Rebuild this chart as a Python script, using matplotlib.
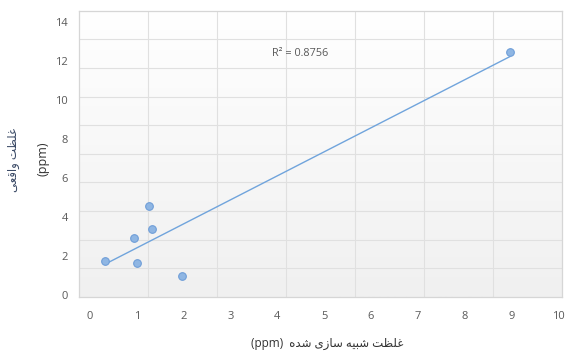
import numpy as np
import matplotlib
matplotlib.use("Agg")
import matplotlib.pyplot as plt
from matplotlib.colors import LinearSegmentedColormap

# simulated vs. real concentration (ppm)
sim_conc = [0.32, 0.95, 1.01, 1.26, 1.32, 1.96, 8.97]
real_conc = [1.76, 2.94, 1.66, 4.55, 3.40, 0.96, 12.48]
x_ticks = list(range(0, 11))
y_ticks = list(range(0, 15, 2))
r2_label = "R² = 0.8756"
x_title_fa = "غلظت شبیه سازی شده"
y_title_fa = "غلظت واقعی"
unit = "(ppm)"

# (isolated, final, initial, medial) presentation forms; right-joining letters have 2
FORMS = {
    "ا": ("\uFE8D", "\uFE8E"),
    "ب": ("\uFE8F", "\uFE90", "\uFE91", "\uFE92"),
    "ت": ("\uFE95", "\uFE96", "\uFE97", "\uFE98"),
    "د": ("\uFEA9", "\uFEAA"),
    "ز": ("\uFEAF", "\uFEB0"),
    "س": ("\uFEB1", "\uFEB2", "\uFEB3", "\uFEB4"),
    "ش": ("\uFEB5", "\uFEB6", "\uFEB7", "\uFEB8"),
    "ظ": ("\uFEC5", "\uFEC6", "\uFEC7", "\uFEC8"),
    "ع": ("\uFEC9", "\uFECA", "\uFECB", "\uFECC"),
    "غ": ("\uFECD", "\uFECE", "\uFECF", "\uFED0"),
    "ق": ("\uFED5", "\uFED6", "\uFED7", "\uFED8"),
    "ل": ("\uFEDD", "\uFEDE", "\uFEDF", "\uFEE0"),
    "ه": ("\uFEE9", "\uFEEA", "\uFEEB", "\uFEEC"),
    "و": ("\uFEED", "\uFEEE"),
    "ی": ("\uFEEF", "\uFEF0", "\uFEF3", "\uFEF4"),
}


def shape_rtl(text):
    # tiny arabic shaper + reversal, since matplotlib has no bidi support
    out = []
    for i, ch in enumerate(text):
        f = FORMS.get(ch)
        if f is None:
            out.append(ch)
            continue
        prev = text[i - 1] if i > 0 else " "
        nxt = text[i + 1] if i + 1 < len(text) else " "
        join_prev = prev in FORMS and len(FORMS[prev]) == 4
        join_next = len(f) == 4 and nxt in FORMS
        if join_prev and join_next:
            out.append(f[3])
        elif join_prev:
            out.append(f[1])
        elif join_next:
            out.append(f[2])
        else:
            out.append(f[0])
    return "".join(reversed(out))


def main():
    fig = plt.figure(figsize=(5.66, 3.54), dpi=100)
    pos = [0.1396, 0.161, 0.8534, 0.8088]

    # background panel: gradient + 7x10 gridlines (independent of data ticks)
    bg = fig.add_axes(pos, zorder=0)
    grad = LinearSegmentedColormap.from_list("g", ["#f0f0f0", "#ffffff"])
    bg.imshow(np.linspace(0, 1, 100).reshape(-1, 1), cmap=grad, origin="lower",
              extent=[0, 7, 0, 10], aspect="auto", zorder=0)
    bg.set_xlim(0, 7); bg.set_ylim(0, 10)
    for v in range(1, 7):
        bg.axvline(v, color="#e0e0e0", lw=0.8, zorder=1)
    for h in range(1, 10):
        bg.axhline(h, color="#e0e0e0", lw=0.8, zorder=1)
    bg.set_xticks([]); bg.set_yticks([])
    for s in bg.spines.values():
        s.set_color("#d6d6d6")
        s.set_linewidth(0.9)

    ax = fig.add_axes(pos, zorder=1)
    ax.patch.set_alpha(0)
    for s in ax.spines.values():
        s.set_visible(False)
    ax.set_xlim(-0.235, 10.085)
    ax.set_ylim(-0.10, 14.58)

    x = np.array(sim_conc)
    y = np.array(real_conc)
    k, b = np.polyfit(x, y, 1)
    xs = np.array([x.min(), x.max()])
    ax.plot(xs, k * xs + b, color="#70a4dc", lw=1.0, zorder=2)
    ax.plot(x, y, "o", ms=5.5, mfc="#8fb6e3", mec="#6f9ed8", mew=0.8, zorder=3)

    tick_font = {"family": "Open Sans", "size": 8, "color": "#595959"}
    ax.set_xticks(x_ticks)
    ax.set_yticks(y_ticks)
    ax.set_xticklabels([str(t) for t in x_ticks], fontdict=tick_font)
    ax.set_yticklabels([str(t) for t in y_ticks], fontdict=tick_font)
    ax.tick_params(axis="both", length=0)
    ax.tick_params(axis="x", pad=10)
    ax.tick_params(axis="y", pad=8)

    ax.text(3.89, 12.36, r2_label, ha="left", va="center",
            family="Open Sans", size=7.8, color="#595959")

    fa_family = ["Open Sans", "DejaVu Sans"]
    fig.text(327 / 566, 1 - 343 / 354, unit + "  " + shape_rtl(x_title_fa),
             ha="center", va="center", family=fa_family, size=8.5, color="#333333")
    fig.text(14 / 566, 1 - 160 / 354, shape_rtl(y_title_fa), rotation=90,
             ha="center", va="center", family=fa_family, size=8.5, color="#3b4a66")
    fig.text(43 / 566, 1 - 159 / 354, unit, rotation=90,
             ha="center", va="center", family=fa_family, size=9, color="#333333")

    fig.savefig("out.png", dpi=100)
    plt.close(fig)


if __name__ == "__main__":
    main()
